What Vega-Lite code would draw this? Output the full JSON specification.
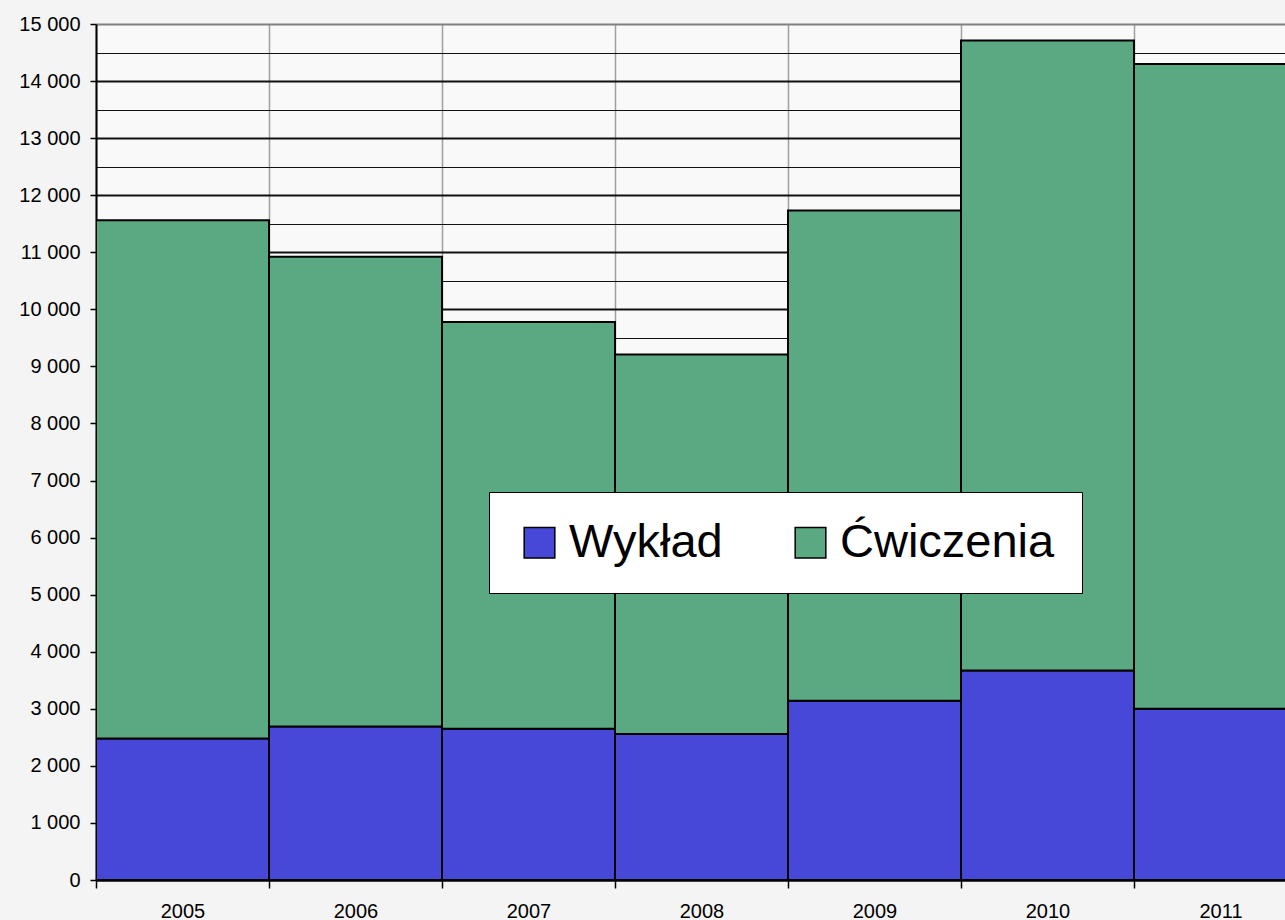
{
  "$schema": "https://vega.github.io/schema/vega-lite/v6.json",
  "width": 1189,
  "height": 856,
  "autosize": {"type": "none"},
  "padding": {"left": 96, "top": 24, "right": 0, "bottom": 40},
  "background": "#f4f4f4",
  "config": {
    "view": {"fill": "#f9f9f9", "stroke": null},
    "font": "Liberation Sans"
  },
  "data": {
    "values": [
      {"rok": "2005", "typ": "Wykład", "liczba": 2480},
      {"rok": "2005", "typ": "Ćwiczenia", "liczba": 9080},
      {"rok": "2006", "typ": "Wykład", "liczba": 2690},
      {"rok": "2006", "typ": "Ćwiczenia", "liczba": 8230},
      {"rok": "2007", "typ": "Wykład", "liczba": 2650},
      {"rok": "2007", "typ": "Ćwiczenia", "liczba": 7130},
      {"rok": "2008", "typ": "Wykład", "liczba": 2560},
      {"rok": "2008", "typ": "Ćwiczenia", "liczba": 6650},
      {"rok": "2009", "typ": "Wykład", "liczba": 3140},
      {"rok": "2009", "typ": "Ćwiczenia", "liczba": 8590},
      {"rok": "2010", "typ": "Wykład", "liczba": 3670},
      {"rok": "2010", "typ": "Ćwiczenia", "liczba": 11040},
      {"rok": "2011", "typ": "Wykład", "liczba": 3000},
      {"rok": "2011", "typ": "Ćwiczenia", "liczba": 11300}
    ]
  },
  "mark": {"type": "bar", "stroke": "black", "strokeWidth": 2, "clip": true},
  "encoding": {
    "x": {
      "field": "rok",
      "type": "ordinal",
      "scale": {"type": "band", "range": [0, 1211], "paddingInner": 0, "paddingOuter": 0},
      "axis": {
        "title": null,
        "labelAngle": 0,
        "labelFontSize": 20,
        "labelColor": "black",
        "labelPadding": 13,
        "tickSize": 8,
        "tickColor": "black",
        "tickWidth": 1.5,
        "tickBand": "extent",
        "domainColor": "black",
        "domainWidth": 2,
        "grid": true,
        "gridColor": "#a0a0a0",
        "gridWidth": 1.5
      }
    },
    "y": {
      "field": "liczba",
      "type": "quantitative",
      "stack": "zero",
      "scale": {"domain": [0, 15000], "nice": false},
      "axis": {
        "title": null,
        "values": [0, 500, 1000, 1500, 2000, 2500, 3000, 3500, 4000, 4500, 5000, 5500, 6000, 6500, 7000, 7500, 8000, 8500, 9000, 9500, 10000, 10500, 11000, 11500, 12000, 12500, 13000, 13500, 14000, 14500, 15000],
        "labelExpr": "datum.value % 1000 === 0 ? replace(format(datum.value, ','), ',', ' ') : ''",
        "labelOverlap": false,
        "labelBound": false,
        "labelFontSize": 20,
        "labelColor": "black",
        "labelPadding": 10,
        "tickSize": 6,
        "tickColor": "black",
        "tickWidth": 1.5,
        "tickOpacity": {"condition": {"test": "datum.value % 1000 === 0", "value": 1}, "value": 0},
        "domainColor": "black",
        "domainWidth": 2,
        "grid": true,
        "gridColor": {"condition": {"test": "datum.value === 15000", "value": "#808080"}, "value": "#111111"},
        "gridWidth": {"condition": {"test": "datum.value % 1000 === 0", "value": 2}, "value": 1}
      }
    },
    "color": {
      "field": "typ",
      "type": "nominal",
      "scale": {"domain": ["Wykład", "Ćwiczenia"], "range": ["#4848d8", "#5aa982"]},
      "legend": {
        "title": null,
        "orient": "none",
        "legendX": 393,
        "legendY": 468,
        "direction": "horizontal",
        "fillColor": "white",
        "strokeColor": "black",
        "padding": 27,
        "symbolType": "square",
        "symbolSize": 940,
        "symbolStrokeColor": "black",
        "symbolStrokeWidth": 1.5,
        "symbolOpacity": 1,
        "labelFontSize": 47,
        "labelFont": "Liberation Sans",
        "labelColor": "black",
        "labelOffset": 6,
        "columnPadding": 64,
        "labelLimit": 0
      }
    },
    "order": {"field": "typ", "sort": "ascending"}
  }
}
